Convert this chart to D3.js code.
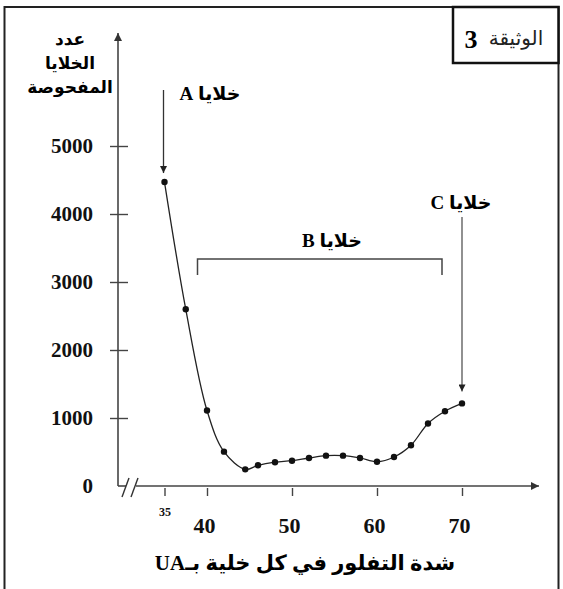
<!DOCTYPE html>
<html>
<head>
<meta charset="utf-8">
<script src="https://cdn.jsdelivr.net/npm/d3@7"></script>
<style>
  body { margin: 0; background: #fff; }
</style>
</head>
<body>
<div class="center"></div>
<script>
// data
const intensity = [35, 37.5, 40, 42, 44.5, 46, 48, 50, 52, 54, 56, 58, 60, 62, 64, 66, 68, 70];
const cells = [4470, 2600, 1110, 505, 245, 305, 350, 372, 412, 446, 446, 412, 357, 426, 600, 920, 1100, 1215];
const xTicks = [35, 40, 50, 60, 70];
const yTicks = [0, 1000, 2000, 3000, 4000, 5000];
const yTitleLines = ["عدد", "الخلايا", "المفحوصة"];
const xTitle = "شدة التفلور في كل خلية بـUA";
const docWord = "الوثيقة", docNum = "3";
const labelA = "خلايا A", labelB = "خلايا B", labelC = "خلايا C";
const rangeB = [39, 68];

const W = 563, H = 589;
const serif = "'Liberation Serif', 'Times New Roman', 'DejaVu Sans', serif";
const axisCol = "#444";

const svg = d3.select(".center").append("svg")
    .attr("width", W)
    .attr("height", H);

svg.append("rect").attr("width", W).attr("height", H).style("fill", "#fff");

// scales
const xScale = d3.scaleLinear().domain([35, 70]).range([164.5, 462]);
const yScale = d3.scaleLinear().domain([0, 5000]).range([486, 146]);
const x0 = 118, y0 = yScale(0);

// arrow markers
const defs = svg.append("defs");
defs.append("marker")
    .attr("id", "tri")
    .attr("viewBox", "0 0 10 10")
    .attr("refX", 10).attr("refY", 5)
    .attr("markerWidth", 7).attr("markerHeight", 7)
    .attr("markerUnits", "userSpaceOnUse")
    .attr("orient", "auto")
    .append("path").attr("d", "M0,0 L10,5 L0,10 z").style("fill", "#222");
defs.append("marker")
    .attr("id", "big")
    .attr("viewBox", "0 0 10 10")
    .attr("refX", 10).attr("refY", 5)
    .attr("markerWidth", 10).attr("markerHeight", 8)
    .attr("markerUnits", "userSpaceOnUse")
    .attr("orient", "auto")
    .append("path").attr("d", "M0,0 L10,5 L0,10 z").style("fill", "#333");

// outer frame (left, top, right)
svg.append("path")
    .attr("d", "M4.5,589 L4.5,7 L558.5,7 L558.5,589")
    .style("fill", "none").style("stroke", "#222").style("stroke-width", 2);

// document title box
svg.append("rect")
    .attr("x", 453).attr("y", 7).attr("width", 105.5).attr("height", 56)
    .style("fill", "#fff").style("stroke", "#111").style("stroke-width", 2.5);
svg.append("text")
    .attr("x", 516).attr("y", 45)
    .attr("text-anchor", "middle")
    .style("font-family", "'DejaVu Sans', sans-serif")
    .style("font-size", "20px")
    .style("fill", "#222")
    .text(docWord);
svg.append("text")
    .attr("x", 471).attr("y", 48)
    .attr("text-anchor", "middle")
    .style("font-family", serif)
    .style("font-weight", "700")
    .style("font-size", "26px")
    .text(docNum);

// y axis line with arrow
svg.append("line")
    .attr("x1", x0).attr("y1", y0).attr("x2", x0).attr("y2", 33)
    .attr("marker-end", "url(#big)")
    .style("stroke", axisCol).style("stroke-width", 1.6);

const yAxis = d3.axisLeft(yScale)
    .tickValues(yTicks)
    .tickSize(0)
    .tickPadding(25)
    .tickFormat(d3.format("d"));
const gy = svg.append("g")
    .attr("transform", `translate(${x0},0)`)
    .call(yAxis);
gy.select(".domain").remove();
gy.selectAll(".tick").filter(d => d > 0).append("line")
    .attr("x1", -8).attr("x2", 10)
    .style("stroke", axisCol).style("stroke-width", 1.4);
gy.selectAll("text")
    .style("font-family", serif)
    .style("font-weight", "700")
    .style("font-size", "21px")
    .style("fill", "#111");

// y title
svg.append("g").selectAll("text")
    .data(yTitleLines)
    .enter().append("text")
    .attr("x", 70)
    .attr("y", (d, i) => 45 + i * 24)
    .attr("text-anchor", "middle")
    .attr("direction", "rtl")
    .style("font-family", "'DejaVu Sans', sans-serif")
    .style("font-weight", "700")
    .style("font-size", "17px")
    .text(d => d);

// x axis with break
svg.append("line")
    .attr("x1", x0).attr("y1", y0).attr("x2", 126).attr("y2", y0)
    .style("stroke", axisCol).style("stroke-width", 1.6);
svg.append("line")
    .attr("x1", 136).attr("y1", y0).attr("x2", 539).attr("y2", y0)
    .attr("marker-end", "url(#big)")
    .style("stroke", axisCol).style("stroke-width", 1.6);
[[122, 129], [131, 138]].forEach(s => {
    svg.append("line")
        .attr("x1", s[0]).attr("y1", y0 + 11).attr("x2", s[1]).attr("y2", y0 - 8)
        .style("stroke", "#333").style("stroke-width", 1.4);
});

const xAxis = d3.axisBottom(xScale)
    .tickValues(xTicks)
    .tickSize(0)
    .tickFormat(d3.format("d"));
const gx = svg.append("g")
    .attr("transform", `translate(0,${y0})`)
    .call(xAxis);
gx.select(".domain").remove();
gx.selectAll(".tick").append("line")
    .attr("y1", 2).attr("y2", 10)
    .style("stroke", axisCol).style("stroke-width", 1.4);
gx.selectAll("text")
    .attr("y", d => d === 35 ? 30 : 47)
    .attr("dy", 0)
    .attr("dx", d => d === 35 ? 0 : -3)
    .style("font-family", serif)
    .style("font-weight", "700")
    .style("font-size", d => d === 35 ? "12px" : "22px")
    .style("fill", "#111");

// x title
svg.append("text")
    .attr("x", 305).attr("y", 570)
    .attr("text-anchor", "middle")
    .attr("direction", "rtl")
    .style("font-family", serif)
    .style("font-weight", "700")
    .style("font-size", "21px")
    .text(xTitle);

// curve
const line = d3.line()
    .x((d, i) => xScale(intensity[i]))
    .y(d => yScale(d))
    .curve(d3.curveCatmullRom);
svg.append("path")
    .datum(cells)
    .attr("d", line)
    .style("fill", "none")
    .style("stroke", "#222")
    .style("stroke-width", 1.3);
svg.selectAll("circle.pt")
    .data(cells)
    .enter().append("circle")
    .attr("class", "pt")
    .attr("cx", (d, i) => xScale(intensity[i]))
    .attr("cy", d => yScale(d))
    .attr("r", 3.2)
    .style("fill", "#111");

// A arrow and label
const ax = xScale(intensity[0]) - 1;
svg.append("line")
    .attr("x1", ax).attr("y1", 90).attr("x2", ax).attr("y2", yScale(cells[0]) - 9)
    .attr("marker-end", "url(#tri)")
    .style("stroke", "#333").style("stroke-width", 1.3);
svg.append("text")
    .attr("x", 210).attr("y", 100)
    .attr("text-anchor", "middle").attr("direction", "rtl")
    .style("font-family", serif).style("font-weight", "700").style("font-size", "19px")
    .text(labelA);

// C arrow and label
const cx = xScale(intensity[intensity.length - 1]);
svg.append("line")
    .attr("x1", cx).attr("y1", 217).attr("x2", cx).attr("y2", yScale(cells[cells.length - 1]) - 12)
    .attr("marker-end", "url(#tri)")
    .style("stroke", "#555").style("stroke-width", 1.3);
svg.append("text")
    .attr("x", 461).attr("y", 209)
    .attr("text-anchor", "middle").attr("direction", "rtl")
    .style("font-family", serif).style("font-weight", "700").style("font-size", "19px")
    .text(labelC);

// B bracket and label
const bx1 = xScale(rangeB[0]) - 1, bx2 = xScale(rangeB[1]) - 3;
svg.append("path")
    .attr("d", `M${bx1},275 L${bx1},259 L${bx2},259 L${bx2},275`)
    .style("fill", "none").style("stroke", "#444").style("stroke-width", 1.5);
svg.append("text")
    .attr("x", 332).attr("y", 247)
    .attr("text-anchor", "middle").attr("direction", "rtl")
    .style("font-family", serif).style("font-weight", "700").style("font-size", "19px")
    .text(labelB);
</script>
</body>
</html>
